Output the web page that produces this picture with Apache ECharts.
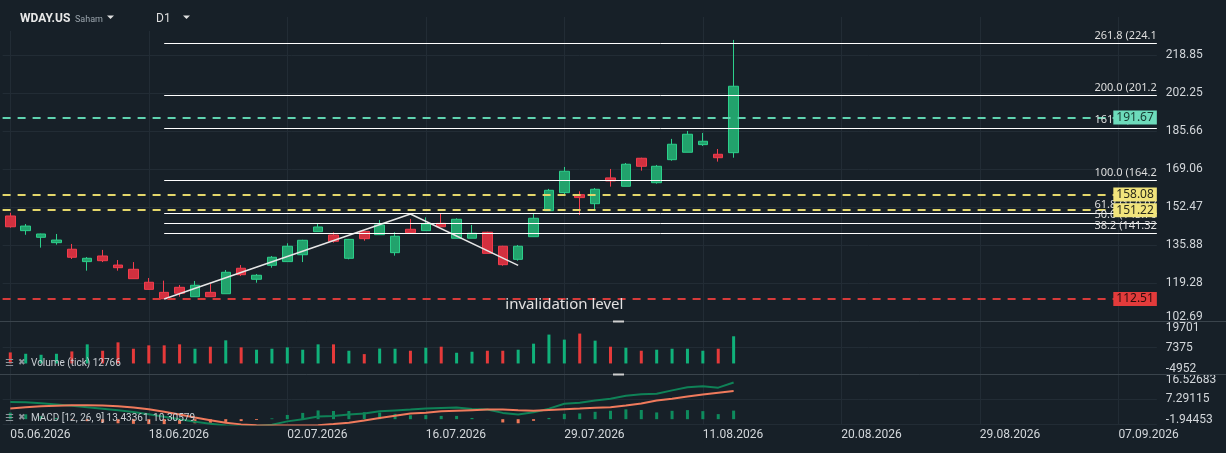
<!DOCTYPE html>
<html><head><meta charset="utf-8">
<script src="https://cdn.jsdelivr.net/npm/echarts@6/dist/echarts.min.js"></script>
<style>html,body{margin:0;padding:0;background:#172028;}#c{width:1226px;height:453px;}</style>
</head><body><div id="c"></div>
<script>
// ---- data ----
const opens  = [148.7,142.3,139.4,137.06,134.2,128.8,131.26,127.3,125.46,119.8,115.4,117.6,113.5,115.4,114.8,125.9,121.1,127.2,128.8,131.8,141.85,140.4,130.25,142.0,140.55,132.7,142.9,142.3,145.5,138.97,139.0,141.6,135.5,129.8,139.67,151.0,158.86,157.99,154.06,165.3,161.65,173.86,163.2,173.25,176.48,179.8,175.6,176.3];
const closes = [144.0,144.3,140.85,138.2,130.7,130.25,129.2,126.15,121.36,116.7,112.6,115.0,118.5,113.5,124.15,123.1,122.85,130.7,135.5,138.1,143.9,137.67,138.5,138.8,144.8,139.85,141.4,145.2,144.0,147.26,141.16,132.4,127.46,135.5,147.7,159.9,168.2,156.7,160.34,164.0,171.25,170.37,170.37,179.97,184.33,181.28,174.1,205.26];
const lows   = [143.6,140.5,134.9,136.2,129.95,124.85,128.6,124.85,121.3,116.6,112.51,113.5,113.5,113.5,114.8,122.5,119.6,126.15,128.8,128.6,141.85,137.06,129.8,137.9,140.55,131.4,141.4,142.3,144.0,138.97,139.0,132.4,127.0,129.2,139.67,151.0,157.86,149.1,151.2,161.5,161.65,168.46,162.8,172.8,176.48,179.23,172.4,174.1];
const highs  = [150.1,145.2,141.0,140.85,136.5,130.8,133.9,129.5,128.6,121.66,120.5,118.6,120.35,119.0,125.15,127.3,123.4,131.26,136.8,138.3,145.5,141.6,138.7,142.2,146.96,141.6,147.4,148.1,149.6,147.7,144.8,141.8,135.7,136.05,149.9,160.5,170.07,159.47,160.9,169.2,171.8,174.1,170.94,182.3,185.77,184.9,177.9,225.45];
const volumes = [5180,4550,4080,4550,5650,8970,5970,9910,6920,8500,8500,8970,6920,7870,10860,7550,6450,6920,7550,6450,8970,8970,5970,4390,7000,6920,5970,7400,7870,5020,5500,5970,5970,6450,9290,13560,11190,14030,10710,7870,7400,5970,6450,6920,6920,5970,6920,12766];
const macdLine = [6.26,6.15,5.8,5.4,4.9,4.4,3.85,3.25,2.6,1.8,0.9,0.0,-0.9,-1.7,-2.3,-2.6,-2.5,-2.0,-0.8,0.0,1.0,1.2,1.7,2.1,2.9,3.2,3.5,3.89,4.1,4.3,3.75,3.55,2.3,1.75,2.5,3.85,5.63,6.0,6.85,7.48,8.6,9.1,9.32,10.54,11.65,12.02,11.54,13.43361];
const signalLine = [3.89,4.35,4.7,4.95,5.1,5.12,5.0,4.75,4.3,3.6,2.7,1.7,0.6,-0.4,-1.3,-1.9,-2.2,-2.3,-2.35,-2.3,-2.2,-1.8,-1.3,-0.46,0.45,1.24,2.06,2.39,2.9,3.1,3.3,3.5,3.5,3.25,3.1,3.4,3.67,3.89,4.15,4.4,4.99,5.73,6.85,7.48,8.33,9.07,9.69,10.30579];
const macdHist = [2.37,1.8,1.1,0.45,-0.2,-0.72,-1.15,-1.5,-1.7,-1.8,-1.8,-1.7,-1.5,-1.3,-1.0,-0.7,-0.3,0.3,1.55,2.3,3.2,3.0,3.0,2.56,2.45,1.96,1.44,1.5,1.2,1.2,0.45,0.05,-1.2,-1.5,-0.6,0.45,1.96,2.11,2.7,3.08,3.61,3.37,2.47,3.06,3.32,2.95,1.85,3.13];
const zigzag = [[10,112.51],[26,149.56],[33,127.17]];
const fibRatios = [38.2,50.0,61.8,100.0,161.8,200.0,261.8];
const fibPrices = [141.32,145.70,150.07,164.22,187.12,201.27,224.16];
const levelPrices = [191.67,158.08,151.22,112.51];
const invalidationText = 'invalidation level';
const xTickIndex = [0,9,18,27,36,45,54,63,72];
const xTickLabels = ['05.06.2026','18.06.2026','02.07.2026','16.07.2026','29.07.2026','11.08.2026','20.08.2026','29.08.2026','07.09.2026'];
const priceTickLabels = ['102.69','119.28','135.88','152.47','169.06','185.66','202.25','218.85'];
const volTickLabels = ['-4952','7375','19701'];
const macdTickLabels = ['-1.94453','7.29115','16.52683'];

// ---- styles ----
const BG='#172028', GRID='#222c35', SEP='#3a444c', AXT='#d3d7db';
const levelStyle = [
  {line:'#5fd3b0', tag:'#6ddbbb', txt:'#173a30'},
  {line:'#e3d66a', tag:'#f1e47c', txt:'#2a2a1a'},
  {line:'#e3d66a', tag:'#f1e47c', txt:'#2a2a1a'},
  {line:'#d63a3a', tag:'#e33b3b', txt:'#2e0c0c'}
];

function nearestIdx(arr, v){let b=0,d=Infinity;arr.forEach((a,i)=>{const e=Math.abs(Number(a)-v);if(e<d){d=e;b=i;}});return b;}
function yLabel(labels, shiftMin, shiftMax){
  const base={fontSize:12,color:AXT,fontFamily:'Roboto'};
  return {customValues: labels.map(Number), margin:9, fontSize:12, color:AXT, fontFamily:'Roboto',
    formatter:(v)=>{const i=nearestIdx(labels,v);const s=labels[i];
      if(i===0&&shiftMin) return '{up|'+s+'}';
      if(i===labels.length-1&&shiftMax) return '{dn|'+s+'}';
      return s;},
    rich:{up:Object.assign({padding:[0,0,10,0]},base), dn:Object.assign({padding:[12,0,0,0]},base)}};
}
function yAxis(gi,min,max,labels,sMin,sMax){
  return {type:'value',gridIndex:gi,position:'right',min:min,max:max,scale:true,
    axisLine:{show:false},axisTick:{show:false,customValues:labels.map(Number)},
    axisLabel:yLabel(labels,sMin,sMax),
    splitLine:{show:true,lineStyle:{color:GRID,width:1}}};
}
function xAxis(gi,showLabel){
  return {type:'value',gridIndex:gi,min:-0.5,max:74.5,
    axisLine:{show:false},axisTick:{show:false,customValues:xTickIndex},
    axisLabel:{show:showLabel,customValues:xTickIndex,align:'left',margin:4,fontSize:12,color:AXT,fontFamily:'Roboto',
      formatter:(v)=>xTickLabels[xTickIndex.indexOf(Math.round(v))]||''},
    splitLine:{show:true,lineStyle:{color:GRID,width:1}}};
}

const candleData = opens.map((o,i)=>[i,o,closes[i],lows[i],highs[i]]);
const up = (i)=>closes[i]>=opens[i];

const fibData = fibRatios.map((r,k)=>[
  {coord:[10,fibPrices[k]],label:{formatter:r.toFixed(1)+' ('+fibPrices[k].toFixed(2)+')'}},
  {coord:[74.5,fibPrices[k]]}
]);
const levelData = levelPrices.map((p,k)=>[
  {coord:[-0.5,p],lineStyle:{color:levelStyle[k].line,width:2,type:[8,7]},
   label:{formatter:p.toFixed(2),backgroundColor:levelStyle[k].tag,color:levelStyle[k].txt}},
  {coord:[74.5,p]}
]);

const chart = echarts.init(document.getElementById('c'),null,{renderer:'canvas'});
chart.setOption({
  backgroundColor:BG, animation:false,
  grid:[
    {left:2.6,right:69.15,top:17,height:304.5},
    {left:2.6,right:69.15,top:321.5,height:52.5},
    {left:2.6,right:69.15,top:374,height:50.5}
  ],
  xAxis:[xAxis(0,false),xAxis(1,false),xAxis(2,true)],
  yAxis:[
    yAxis(0,102.69,235.45,priceTickLabels,true,false),
    yAxis(1,-4952,19701,volTickLabels,true,true),
    yAxis(2,-1.94453,16.52683,macdTickLabels,true,true)
  ],
  series:[
    {type:'candlestick',xAxisIndex:0,yAxisIndex:0,data:candleData,encode:{x:0,y:[1,2,3,4]},barWidth:10,z:2,silent:true,
     itemStyle:{color:'#22a26c',color0:'#d2303f',borderColor:'#2ccf8b',borderColor0:'#f33d4d',borderWidth:1}},
    {type:'line',xAxisIndex:0,yAxisIndex:0,data:[],z:3,silent:true,
     markLine:{silent:true,animation:false,symbol:['none','none'],
       lineStyle:{color:'#ffffff',width:1,type:'solid'},
       label:{position:'insideEndTop',distance:[0,2],color:'#dedede',fontSize:11,fontFamily:'Noto Sans',width:66,overflow:'truncate',ellipsis:''},
       emphasis:{disabled:true},
       data:fibData}},
    {type:'line',xAxisIndex:0,yAxisIndex:0,data:zigzag,z:3,silent:true,symbol:'none',
     lineStyle:{color:'#e6e6e6',width:1.5}},
    {type:'line',xAxisIndex:0,yAxisIndex:0,data:[],z:4,silent:true,
     markLine:{silent:true,animation:false,symbol:['none','none'],
       label:{position:'insideEnd',distance:[0,0],fontSize:12,fontFamily:'Noto Sans',padding:[1,3,1,3]},
       emphasis:{disabled:true},
       data:levelData},
     markPoint:{silent:true,animation:false,symbol:'rect',symbolSize:1,itemStyle:{color:'rgba(0,0,0,0)'},
       label:{show:true,position:'inside',offset:[0,6],formatter:invalidationText,color:'#e2e2e2',fontSize:15,fontFamily:'Noto Sans'},
       data:[{coord:[36,levelPrices[3]]}]}},
    {type:'bar',xAxisIndex:1,yAxisIndex:1,barWidth:3,silent:true,
     data:volumes.map((v,i)=>[i,v]),
     itemStyle:{color:(p)=>up(p.dataIndex)?'#10b17a':'#e53a3a'}},
    {type:'bar',xAxisIndex:2,yAxisIndex:2,barWidth:3,silent:true,
     data:macdHist.map((v,i)=>[i,v]),
     itemStyle:{color:(p)=>p.value[1]>=0?'#0e8b5d':'#ef7858'}},
    {type:'line',xAxisIndex:2,yAxisIndex:2,data:macdLine.map((v,i)=>[i,v]),symbol:'none',silent:true,
     lineStyle:{color:'#0f8257',width:2}},
    {type:'line',xAxisIndex:2,yAxisIndex:2,data:signalLine.map((v,i)=>[i,v]),symbol:'none',silent:true,
     lineStyle:{color:'#f07a5c',width:2}}
  ],
  graphic:[
    {type:'rect',shape:{x:0,y:0,width:230,height:31},style:{fill:BG},z:10,silent:true},
    {type:'text',x:20,y:19,style:{text:'WDAY.US',font:'bold 12px Roboto',fill:'#e8e8e8',verticalAlign:'middle'},z:11},
    {type:'text',x:75,y:20,style:{text:'Saham',font:'9px Roboto',fill:'#9aa4ac',verticalAlign:'middle'},z:11},
    {type:'polygon',shape:{points:[[107,15.5],[114,15.5],[110.5,19]]},style:{fill:'#e0e0e0'},z:11},
    {type:'text',x:156,y:19,style:{text:'D1',font:'12px Roboto',fill:'#dedede',verticalAlign:'middle'},z:11},
    {type:'polygon',shape:{points:[[183,15.5],[190,15.5],[186.5,19]]},style:{fill:'#e0e0e0'},z:11},
    {type:'line',shape:{x1:0,y1:321.5,x2:1226,y2:321.5},style:{stroke:SEP,lineWidth:1},z:9},
    {type:'line',shape:{x1:0,y1:374.5,x2:1226,y2:374.5},style:{stroke:SEP,lineWidth:1},z:9},
    {type:'rect',shape:{x:613,y:320.5,width:11,height:2},style:{fill:'#cfcfcf'},z:10},
    {type:'rect',shape:{x:613,y:373.5,width:11,height:2},style:{fill:'#cfcfcf'},z:10},
    {type:'text',x:5,y:363,style:{text:'☰',font:'10px "DejaVu Sans"',fill:'#8c949b',verticalAlign:'middle'},z:11},
    {type:'text',x:18,y:363,style:{text:'✖',font:'9px "DejaVu Sans"',fill:'#8c949b',verticalAlign:'middle'},z:11},
    {type:'text',x:31,y:363.5,style:{text:'Volume (tick) '+volumes[volumes.length-1],font:'10px Roboto',fill:'#c9ced3',verticalAlign:'middle'},z:11},
    {type:'text',x:5,y:418,style:{text:'☰',font:'10px "DejaVu Sans"',fill:'#8c949b',verticalAlign:'middle'},z:11},
    {type:'text',x:18,y:418,style:{text:'✖',font:'9px "DejaVu Sans"',fill:'#8c949b',verticalAlign:'middle'},z:11},
    {type:'text',x:31,y:418,style:{text:'MACD [12, 26, 9] '+macdLine[macdLine.length-1].toFixed(5)+', '+signalLine[signalLine.length-1].toFixed(5),font:'10px Roboto',fill:'#c9ced3',verticalAlign:'middle'},z:11}
  ]
});
</script></body></html>
